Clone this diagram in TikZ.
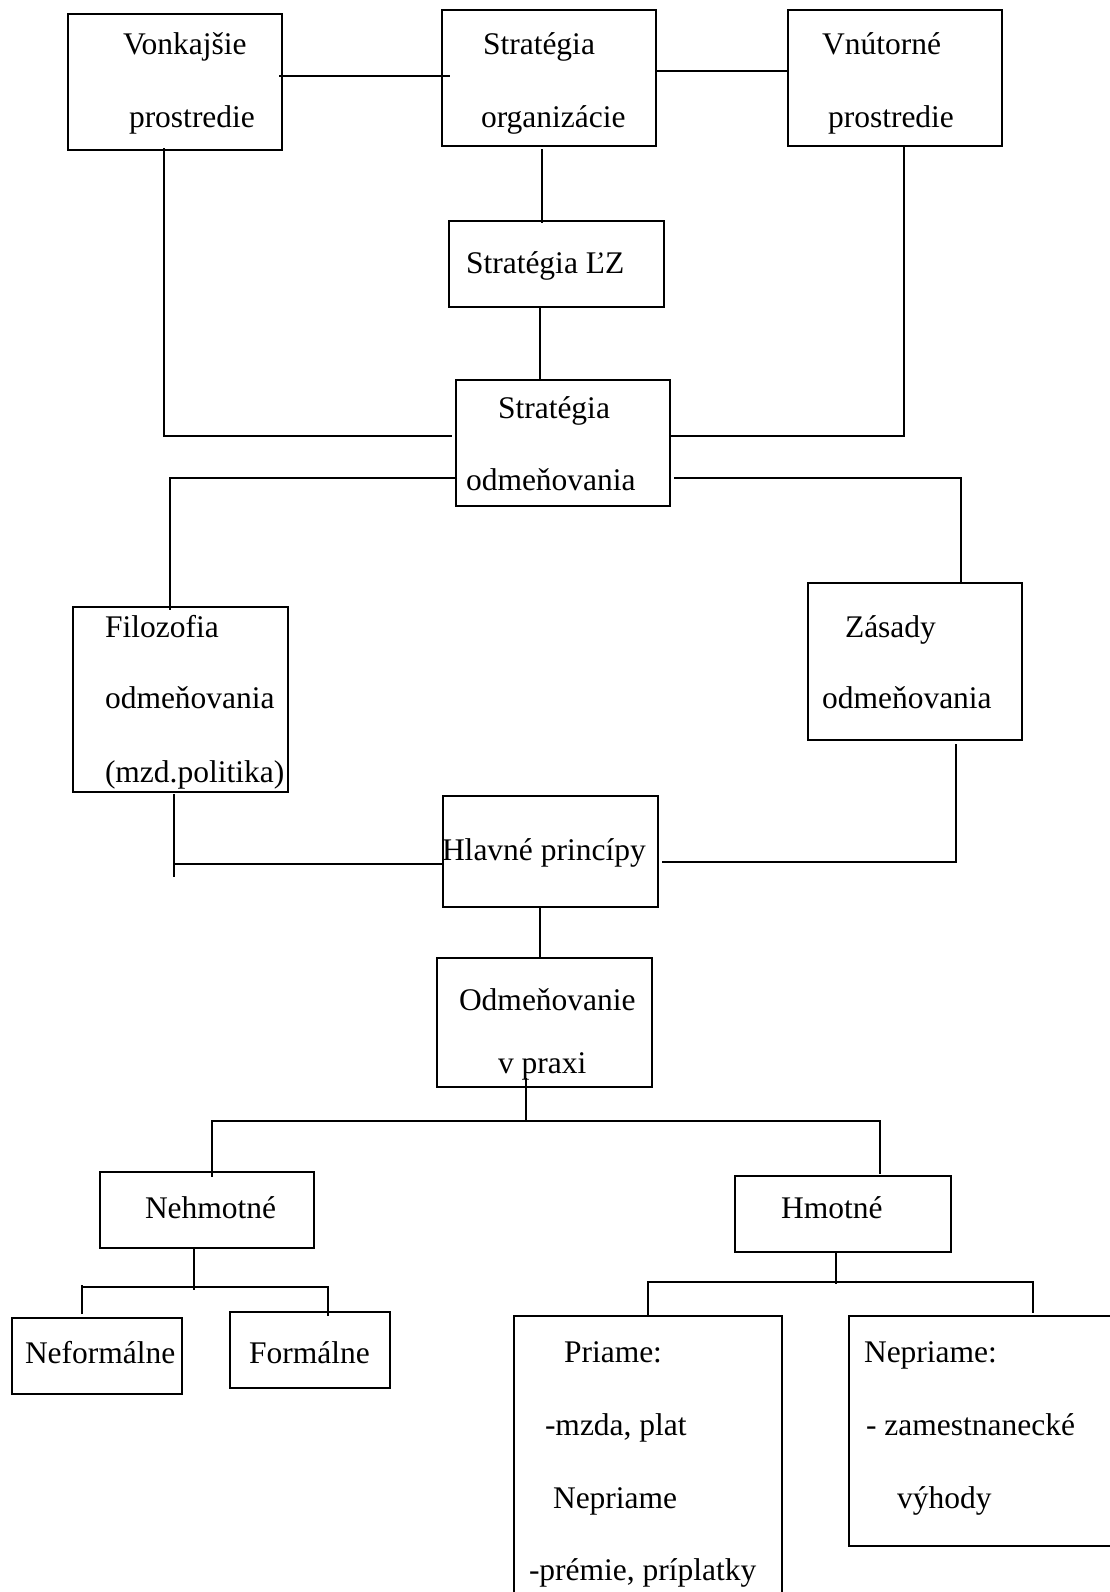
\documentclass[tikz,border=0pt]{standalone}
\usepackage{fontspec}
\setmainfont{Liberation Serif}
\usetikzlibrary{calc}
\begin{document}
\begin{tikzpicture}[x=1pt,y=-1pt,
  box/.style={draw, line width=2pt, inner sep=0pt, outer sep=0pt, anchor=north west},
  lbl/.style={anchor=base west, inner sep=0pt, outer sep=0pt, font=\fontsize{31.5}{36}\selectfont},
  wire/.style={line width=2pt}]
\useasboundingbox (0,0) rectangle (1110,1592);
\clip (0,0) rectangle (1110,1592);

% boxes
\node[box, minimum width=214pt, minimum height=136pt] (vonk) at (68,14) {};
\node[box, minimum width=214pt, minimum height=136pt] (sorg) at (442,10) {};
\node[box, minimum width=214pt, minimum height=136pt] (vnut) at (788,10) {};
\node[box, minimum width=215pt, minimum height=86pt]  (slz)  at (449,221) {};
\node[box, minimum width=214pt, minimum height=126pt] (sodm) at (456,380) {};
\node[box, minimum width=215pt, minimum height=185pt] (filo) at (73,607) {};
\node[box, minimum width=214pt, minimum height=157pt] (zas)  at (808,583) {};
\node[box, minimum width=215pt, minimum height=111pt] (hlav) at (443,796) {};
\node[box, minimum width=215pt, minimum height=129pt] (prax) at (437,958) {};
\node[box, minimum width=214pt, minimum height=76pt]  (nehm) at (100,1172) {};
\node[box, minimum width=216pt, minimum height=76pt]  (hmot) at (735,1176) {};
\node[box, minimum width=170pt, minimum height=76pt]  (nefo) at (12,1318) {};
\node[box, minimum width=160pt, minimum height=76pt]  (form) at (230,1312) {};
\node[box, minimum width=268pt, minimum height=300pt] (pria) at (514,1316) {};
\node[box, minimum width=280pt, minimum height=230pt] (nepr) at (849,1316) {};

% labels
\node[lbl] (vonk-a) at (123,55)  {Vonkajšie};
\node[lbl] (vonk-b) at (129,128) {prostredie};
\node[lbl] (sorg-a) at (483,55)  {Stratégia};
\node[lbl] (sorg-b) at (481,128) {organizácie};
\node[lbl] (vnut-a) at (822,55)  {Vnútorné};
\node[lbl] (vnut-b) at (828,128) {prostredie};
\node[lbl] (slz-a)  at (466,273) {Stratégia ĽZ};
\node[lbl] (sodm-a) at (498,418) {Stratégia};
\node[lbl] (sodm-b) at (466,490) {odmeňovania};
\node[lbl] (filo-a) at (105,637) {Filozofia};
\node[lbl] (filo-b) at (105,708) {odmeňovania};
\node[lbl] (filo-c) at (105,782) {(mzd.politika)};
\node[lbl] (zas-a)  at (845,637) {Zásady};
\node[lbl] (zas-b)  at (822,708) {odmeňovania};
\node[lbl] (hlav-a) at (442,860) {Hlavné princípy};
\node[lbl] (prax-a) at (459,1010) {Odmeňovanie};
\node[lbl] (prax-b) at (498,1073) {v praxi};
\node[lbl] (nehm-a) at (145,1218) {Nehmotné};
\node[lbl] (hmot-a) at (781,1218) {Hmotné};
\node[lbl] (nefo-a) at (25,1363)  {Neformálne};
\node[lbl] (form-a) at (249,1363) {Formálne};
\node[lbl] (pria-a) at (564,1362) {Priame:};
\node[lbl] (pria-b) at (545,1435) {-mzda, plat};
\node[lbl] (pria-c) at (553,1508) {Nepriame};
\node[lbl] (pria-d) at (529,1580) {-prémie, príplatky};
\node[lbl] (nepr-a) at (864,1362) {Nepriame:};
\node[lbl] (nepr-b) at (866,1435) {- zamestnanecké};
\node[lbl] (nepr-c) at (897,1508) {výhody};

% connectors, top part
\draw[wire] ($(vonk.north east)+(-3,62)$) -- ($(sorg.north west)+(8,66)$);
\draw[wire] ($(sorg.north east)+(0,61)$) -- ($(vnut.north west)+(-1,61)$);
\draw[wire] ($(sorg.south west)+(100,3)$) -- ($(slz.north west)+(93,2)$);
\draw[wire] ($(slz.south west)+(91,0)$) -- ($(sodm.north west)+(84,0)$);
\draw[wire] ($(vonk.south west)+(96,-2)$) |- ($(sodm.north west)+(-4,56)$);
\draw[wire] ($(sodm.north east)+(0,56)$) -| ($(vnut.south west)+(116,0)$);

% connectors, middle part
\draw[wire] ($(sodm.south west)+(1,-28)$) -| ($(filo.north west)+(97,3)$);
\draw[wire] ($(sodm.south east)+(4,-28)$) -| ($(zas.north west)+(153,0)$);
\draw[wire] ($(filo.south west)+(101,2)$) -- ($(filo.south west)+(101,85)$);
\draw[wire] ($(filo.south west)+(101,72)$) -- ($(hlav.north west)+(0,68)$);
\draw[wire] ($(zas.south west)+(148,4)$) |- ($(hlav.north east)+(4,66)$);
\draw[wire] ($(hlav.south west)+(97,0)$) -- ($(prax.north west)+(103,0)$);

% connectors, lower part
\coordinate (pj) at ($(prax.south west)+(89,34)$);
\draw[wire] ($(prax.south west)+(89,-9)$) -- (pj);
\draw[wire] (pj) -| ($(nehm.north west)+(112,5)$);
\draw[wire] (pj) -| ($(hmot.north west)+(145,-2)$);

\draw[wire] ($(nehm.south west)+(94,0)$) -- ($(nehm.south west)+(94,42)$);
\draw[wire] ($(nefo.north west)+(70,-4)$) -- ($(nefo.north west)+(70,-33)$);
\draw[wire] ($(nefo.north west)+(70,-31)$) -| ($(form.north west)+(98,4)$);

\draw[wire] ($(hmot.south west)+(101,0)$) -- ($(hmot.south west)+(101,32)$);
\draw[wire] ($(pria.north west)+(134,-1)$) |- ($(nepr.north west)+(184,-34)$) -- ($(nepr.north west)+(184,-3)$);
\end{tikzpicture}
\end{document}
